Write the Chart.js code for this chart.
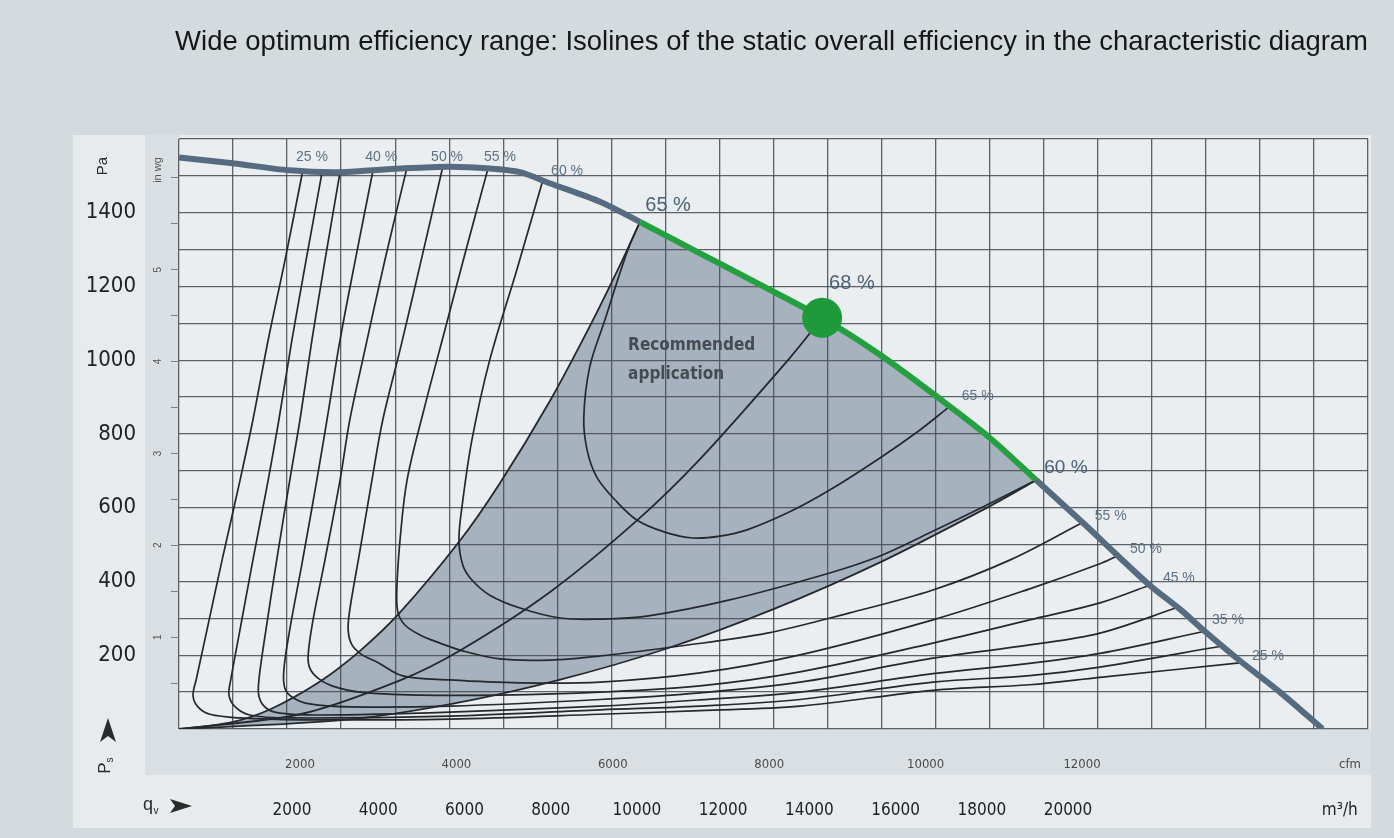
<!DOCTYPE html>
<html>
<head>
<meta charset="utf-8">
<title>Efficiency isolines</title>
<script src="https://cdn.jsdelivr.net/npm/chart.js@4.4.1/dist/chart.umd.min.js"></script>
<style>
  html, body { margin: 0; padding: 0; background: #d4dbde; }
</style>
</head>
<body>
<canvas id="fanChart" width="1394" height="838"></canvas>
<script>
const title = "Wide optimum efficiency range: Isolines of the static overall efficiency in the characteristic diagram";

// axis tick labels
const paTicks = [200, 400, 600, 800, 1000, 1200, 1400];
const wgTicks = [1, 2, 3, 4, 5];
const wgMarks = [0.5, 1, 1.5, 2, 2.5, 3, 3.5, 4, 4.5, 5, 5.5, 6];
const cfmTicks = [2000, 4000, 6000, 8000, 10000, 12000];
const m3hTicks = [2000, 4000, 6000, 8000, 10000, 12000, 14000, 16000, 18000, 20000];

// fan characteristic, q in m³/h, p in Pa
const fanQ = [0, 950, 2050, 2980, 4090, 5010, 5750, 6310, 6860, 7790, 8530, 9640, 10750, 11900, 12970, 14080, 15000, 15860, 16720, 17370, 17960, 18520, 18980, 19630, 20370, 21160];
const fanP = [1550, 1535, 1515, 1510, 1520, 1525, 1520, 1510, 1480, 1430, 1375, 1290, 1205, 1115, 1015, 895, 790, 675, 560, 470, 390, 325, 265, 185, 100, 0];

// optimum point (68 %)
const bestQ = 11900;
const bestP = 1115;

// system curves through the origin
const sysLeftQ = [0, 940, 1680, 2610, 3350, 4090, 5200, 5940, 6860, 7600, 8160, 8530];
const sysLeftP = [0, 17, 53, 129, 212, 316, 511, 667, 889, 1092, 1258, 1375];
const sysBestQ = [0, 2240, 4090, 5200, 6860, 8470, 9640, 11300, 11900];
const sysBestP = [0, 40, 132, 213, 371, 565, 732, 1006, 1115];
const sysLowQ = [0, 3000, 5000, 7000, 9000, 11000, 13000, 15000, 15860];
const sysLowP = [0, 24, 67, 132, 217, 325, 454, 604, 675];

// efficiency isolines
const eta25Q = [2290, 1960, 1650, 1370, 1130, 800, 520, 320, 260, 350, 570, 1130, 2240, 5010, 7790, 9640, 11490, 13950, 15740, 17040, 19670];
const eta25P = [1514, 1270, 1055, 840, 675, 460, 270, 135, 90, 60, 40, 30, 25, 27, 40, 50, 62, 105, 120, 140, 180];
const eta30Q = [2650, 2350, 2090, 1850, 1650, 1370, 1130, 960, 925, 1040, 1310, 2050, 5010, 7790, 9640, 11490, 13950, 15740, 17040, 19300];
const eta30P = [1512, 1270, 1055, 840, 675, 460, 270, 135, 92, 60, 38, 30, 35, 52, 62, 80, 127, 145, 168, 225];
const eta35Q = [2980, 2700, 2460, 2240, 2050, 1810, 1610, 1480, 1480, 1610, 1870, 2610, 5010, 7790, 9640, 11490, 13950, 15740, 17040, 18980];
const eta35P = [1510, 1270, 1055, 840, 675, 460, 270, 135, 88, 57, 43, 38, 46, 62, 79, 100, 150, 178, 205, 265];
const eta40Q = [3590, 3260, 2980, 2740, 2550, 2290, 2050, 1940, 1960, 2110, 2420, 3160, 5010, 7790, 9640, 11490, 13950, 15740, 17040, 18480];
const eta40P = [1515, 1270, 1055, 840, 675, 460, 270, 160, 110, 85, 68, 60, 62, 80, 98, 127, 192, 228, 260, 330];
const eta45Q = [4220, 3810, 3440, 3160, 2980, 2700, 2480, 2390, 2420, 2570, 2830, 3350, 4460, 5940, 7790, 9640, 11490, 13950, 15740, 17040, 17960];
const eta45P = [1523, 1272, 1028, 838, 675, 458, 296, 201, 165, 138, 117, 100, 92, 92, 100, 117, 155, 233, 296, 342, 390];
const eta50Q = [4880, 4460, 4090, 3770, 3570, 3350, 3160, 3130, 3200, 3390, 3660, 4140, 5010, 6310, 7790, 9640, 11490, 13950, 15740, 17040, 17370];
const eta50P = [1524, 1258, 1028, 838, 675, 485, 323, 268, 228, 201, 182, 144, 133, 125, 127, 152, 201, 296, 380, 448, 470];
const eta55Q = [5720, 5310, 4920, 4530, 4220, 4090, 4030, 4050, 4180, 4460, 4830, 5200, 5940, 6860, 7790, 9270, 10880, 12410, 13950, 15370, 16720];
const eta55P = [1521, 1299, 1082, 865, 675, 513, 377, 317, 282, 255, 233, 214, 190, 187, 198, 225, 260, 315, 377, 458, 560];
const eta60Q = [6730, 6250, 5750, 5420, 5240, 5180, 5250, 5420, 5750, 6310, 7050, 7790, 8660, 10190, 12040, 12970, 13890, 14910, 15860];
const eta60P = [1487, 1245, 1001, 784, 607, 513, 445, 404, 363, 328, 301, 298, 306, 350, 423, 469, 532, 605, 675];
const eta65Q = [8530, 8340, 8160, 7880, 7600, 7490, 7550, 7730, 8070, 8470, 8990, 9510, 10010, 10510, 11300, 12040, 12970, 13710, 14260];
const eta65P = [1375, 1313, 1237, 1109, 982, 846, 757, 683, 621, 567, 534, 518, 523, 540, 589, 648, 735, 811, 875];

// efficiency labels (placed in q / p units)
const effLabels = [
  { text: "25 %", q: 2460, p: 1551, size: 14 },
  { text: "40 %", q: 3740, p: 1551, size: 14 },
  { text: "50 %", q: 4960, p: 1551, size: 14 },
  { text: "55 %", q: 5940, p: 1551, size: 14 },
  { text: "60 %", q: 7180, p: 1513, size: 14 },
  { text: "65 %", q: 9050, p: 1421, size: 20 },
  { text: "68 %", q: 12450, p: 1207, size: 20 },
  { text: "65 %", q: 14780, p: 903, size: 14 },
  { text: "60 %", q: 16410, p: 708, size: 19 },
  { text: "55 %", q: 17240, p: 578, size: 14 },
  { text: "50 %", q: 17890, p: 488, size: 14 },
  { text: "45 %", q: 18500, p: 410, size: 14 },
  { text: "35 %", q: 19410, p: 296, size: 14 },
  { text: "25 %", q: 20150, p: 198, size: 14 }
];
const recText = ["Recommended", "application"];
const recAt = { q: 8310, p: 1040 };

const steel = "#566b80";
const green = "#25a040";
const isoColor = "#25282c";
const gridColor = "rgba(72,78,84,0.88)";

const pts = (qs, ps) => qs.map((q, i) => ({ x: q, y: ps[i] }));

// fit title width to the printed one
const mctx = document.createElement("canvas").getContext("2d");
mctx.font = "100px 'Liberation Sans'";
const titleSize = 100 * 1193 / mctx.measureText(title).width;

function isoLine(q, p) {
  return { data: pts(q, p), showLine: true, pointRadius: 0, borderColor: isoColor, borderWidth: 1.7, tension: 0.35, fill: false };
}
function sysLine(q, p) {
  return { data: pts(q, p), showLine: true, pointRadius: 0, borderColor: isoColor, borderWidth: 1.8, tension: 0.3, fill: false };
}

const decor = {
  id: "decor",
  beforeDraw(chart) {
    const { ctx, chartArea: a, scales } = chart;
    const sx = scales.x, sy = scales.y;
    ctx.save();
    ctx.fillStyle = "#d4dbde";
    ctx.fillRect(0, 0, chart.width, chart.height);
    ctx.fillStyle = "#e7ebed";
    ctx.fillRect(scales.y.left, a.top - 4, a.right + 3 - scales.y.left, scales.xm.bottom - a.top + 4);
    ctx.fillStyle = "#d9dfe2";
    ctx.fillRect(scales.yw.left, a.top - 4, scales.yw.width, scales.xc.bottom - a.top + 4);
    ctx.fillRect(scales.yw.left, scales.xc.top, a.right + 3 - scales.yw.left, scales.xc.height);
    ctx.fillStyle = "#eaeef0";
    ctx.fillRect(a.left, a.top, a.width, a.height);

    // recommended application area
    const px = q => sx.getPixelForValue(q), py = p => sy.getPixelForValue(p);
    const qL = sysLeftQ[sysLeftQ.length - 1], qR = sysLowQ[sysLowQ.length - 1];
    ctx.beginPath();
    sysLeftQ.forEach((q, i) => i ? ctx.lineTo(px(q), py(sysLeftP[i])) : ctx.moveTo(px(q), py(sysLeftP[i])));
    fanQ.forEach((q, i) => { if (q > qL && q <= qR) ctx.lineTo(px(q), py(fanP[i])); });
    for (let i = sysLowQ.length - 1; i >= 0; i--) ctx.lineTo(px(sysLowQ[i]), py(sysLowP[i]));
    ctx.closePath();
    ctx.fillStyle = "rgba(112,130,152,0.55)";
    ctx.fill();
    ctx.restore();
  },
  afterDraw(chart) {
    const { ctx, chartArea: a, scales } = chart;
    const sx = scales.x, sy = scales.y;
    ctx.save();
    ctx.textAlign = "center";
    ctx.textBaseline = "middle";
    effLabels.forEach(l => {
      ctx.font = l.size + "px 'Liberation Sans', Arial, sans-serif";
      ctx.fillStyle = l.size > 16 ? "#4c6177" : "#5f7186";
      ctx.fillText(l.text, sx.getPixelForValue(l.q), sy.getPixelForValue(l.p));
    });

    ctx.textAlign = "left";
    ctx.font = "bold 17px 'DejaVu Sans Condensed', sans-serif";
    ctx.fillStyle = "#464b52";
    recText.forEach((t, i) => ctx.fillText(t, sx.getPixelForValue(recAt.q), sy.getPixelForValue(recAt.p) + i * 29));

    // axis captions
    const ya = scales.y, yw = scales.yw, xm = scales.xm;
    ctx.fillStyle = "#2a2a2a";
    ctx.textAlign = "center";
    ctx.save();
    ctx.translate(ya.left + 30, a.top + 27);
    ctx.rotate(-Math.PI / 2);
    ctx.font = "15px 'Liberation Sans', sans-serif";
    ctx.fillText("Pa", 0, 0);
    ctx.restore();

    ctx.save();
    ctx.translate(yw.left + 13, a.top + 31);
    ctx.rotate(-Math.PI / 2);
    ctx.font = "11px 'Liberation Sans', sans-serif";
    ctx.fillStyle = "#555";
    ctx.fillText("in wg", 0, 0);
    ctx.restore();

    // p_s with arrow
    const ax = ya.left + 35, ay = a.bottom - 11;
    ctx.beginPath();
    ctx.moveTo(ax, ay);
    ctx.lineTo(ax + 8, ay + 24);
    ctx.lineTo(ax, ay + 18);
    ctx.lineTo(ax - 8, ay + 24);
    ctx.closePath();
    ctx.fill();
    ctx.save();
    ctx.translate(ax - 3, ay + 47);
    ctx.rotate(-Math.PI / 2);
    ctx.font = "17px 'Liberation Sans', sans-serif";
    ctx.fillText("P", -3, 0);
    ctx.font = "10px 'Liberation Sans', sans-serif";
    ctx.fillText("s", 5, 5);
    ctx.restore();

    // q_v with arrow
    const qy = xm.top + 31;
    ctx.font = "18px 'Liberation Sans', sans-serif";
    ctx.fillText("q", ya.left + 75, qy - 1);
    ctx.font = "10px 'Liberation Sans', sans-serif";
    ctx.fillText("v", ya.left + 83, qy + 5);
    const bx = ya.left + 97;
    ctx.beginPath();
    ctx.moveTo(bx, qy - 7);
    ctx.lineTo(bx + 22, qy);
    ctx.lineTo(bx, qy + 7);
    ctx.lineTo(bx + 5, qy);
    ctx.closePath();
    ctx.fill();
    ctx.restore();
  }
};

const qL = sysLeftQ[sysLeftQ.length - 1], qR = sysLowQ[sysLowQ.length - 1];

new Chart(document.getElementById("fanChart"), {
  type: "scatter",
  data: {
    datasets: [
      { data: pts([bestQ], [bestP]), pointRadius: 20, pointBackgroundColor: "#1f9a3b", pointBorderWidth: 0, showLine: false },
      {
        data: pts(fanQ, fanP), showLine: true, pointRadius: 0, borderWidth: 6, borderColor: steel,
        borderJoinStyle: "round", tension: 0.3,
        segment: { borderColor: c => (c.p0.parsed.x >= qL && c.p1.parsed.x <= qR) ? green : steel }
      },
      sysLine(sysLeftQ, sysLeftP),
      sysLine(sysBestQ, sysBestP),
      sysLine(sysLowQ, sysLowP),
      isoLine(eta65Q, eta65P),
      isoLine(eta60Q, eta60P),
      isoLine(eta55Q, eta55P),
      isoLine(eta50Q, eta50P),
      isoLine(eta45Q, eta45P),
      isoLine(eta40Q, eta40P),
      isoLine(eta35Q, eta35P),
      isoLine(eta30Q, eta30P),
      isoLine(eta25Q, eta25P)
    ]
  },
  options: {
    responsive: false,
    animation: false,
    events: [],
    layout: { padding: { left: 73, right: 26, top: 0, bottom: 10 } },
    plugins: {
      legend: { display: false },
      tooltip: { enabled: false },
      title: {
        display: true, text: title, align: "end", color: "#161616",
        font: { family: "'Liberation Sans', Arial, sans-serif", size: titleSize, weight: "normal" },
        padding: { top: 42 - 0.6 * titleSize, bottom: 97 - 0.6 * titleSize }
      }
    },
    scales: {
      x: {
        type: "linear", position: "bottom", min: 0, max: 22000, weight: 0,
        ticks: { display: false, stepSize: 1000, autoSkip: false },
        grid: { color: gridColor, lineWidth: 1.3, drawTicks: false },
        border: { display: false },
        afterFit: s => { s.height = 0; }
      },
      // label rows as printed below the diagram
      xc: {
        type: "linear", position: "bottom", min: 453, max: 15657, weight: 1,
        afterBuildTicks: s => { s.ticks = cfmTicks.concat([15427]).map(v => ({ value: v })); },
        ticks: {
          autoSkip: false, maxRotation: 0, padding: 20, color: "#4a4a4a",
          font: { family: "'DejaVu Sans Condensed', sans-serif", size: 13 },
          callback: v => v === 15427 ? "cfm" : String(v)
        },
        grid: { display: false }, border: { display: false },
        afterFit: s => { s.height = 46; }
      },
      xm: {
        type: "linear", position: "bottom", min: -622, max: 26959, weight: 2,
        afterBuildTicks: s => { s.ticks = m3hTicks.concat([26305]).map(v => ({ value: v })); },
        ticks: {
          autoSkip: false, maxRotation: 0, padding: 17, color: "#1f1f1f",
          font: { family: "'DejaVu Sans Condensed', sans-serif", size: 17 },
          callback: v => v === 26305 ? "m³/h" : String(v)
        },
        grid: { display: false }, border: { display: false },
        afterFit: s => { s.height = 53; }
      },
      y: {
        type: "linear", position: "left", min: 0, max: 1600, weight: 2,
        ticks: {
          stepSize: 100, autoSkip: false, padding: 9, color: "#222",
          font: { family: "'DejaVu Sans Condensed', sans-serif", size: 22 },
          callback: v => paTicks.includes(v) ? String(v) : ""
        },
        grid: { color: gridColor, lineWidth: 1.3, drawTicks: false },
        border: { display: false },
        afterFit: s => { s.width = 72; }
      },
      yw: {
        type: "linear", position: "left", min: 0, max: 1600 / 249.09, weight: 1,
        afterBuildTicks: s => { s.ticks = wgMarks.map(v => ({ value: v })); },
        ticks: {
          autoSkip: false, minRotation: 90, maxRotation: 90, crossAlign: "center", padding: 10, color: "#555",
          font: { family: "'Liberation Sans', sans-serif", size: 10 },
          callback: v => wgTicks.includes(v) ? String(v) : ""
        },
        grid: { drawOnChartArea: false, drawTicks: true, tickLength: 8, color: "#7a7f84" },
        border: { display: false },
        afterFit: s => { s.width = 34; }
      }
    }
  },
  plugins: [decor]
});
</script>
</body>
</html>
